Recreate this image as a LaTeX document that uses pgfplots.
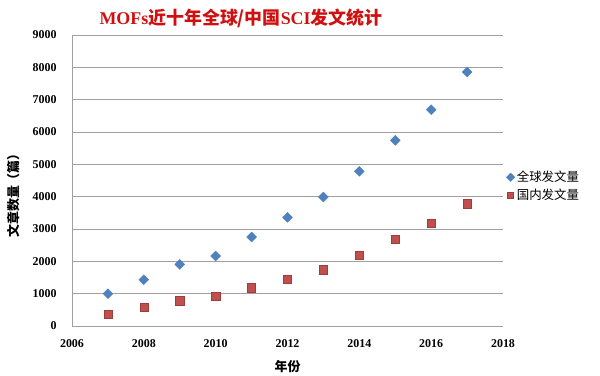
\documentclass[border=0pt]{standalone}
\usepackage{pgfplots}
\pgfplotsset{compat=1.18}
\usepackage{fontspec}
\setmainfont{Liberation Serif}
\newfontfamily\cjk{Noto Sans CJK SC}
\definecolor{gblue}{HTML}{4F81BD}
\definecolor{gred}{HTML}{C0504D}
\definecolor{gredd}{HTML}{A03C3A}
\definecolor{gridc}{HTML}{A0A0A0}
\definecolor{titlered}{HTML}{D01010}
\begin{document}
\begin{tikzpicture}
\begin{axis}[
  scale only axis,
  width=431bp, height=291bp,
  xmin=2006, xmax=2018, ymin=0, ymax=9000,
  xtick={2006,2008,...,2018},
  ytick={0,1000,...,9000},
  /pgf/number format/1000 sep={},
  /pgf/number format/assume math mode=true,
  ticklabel style={font=\fontsize{12}{14}\selectfont\bfseries},
  major tick length=0pt,
  axis x line*=bottom, axis y line*=left,
  axis line style={gridc, line width=0.8pt},
  x axis line style={-}, y axis line style={-},
  ymajorgrids, major grid style={gridc, line width=0.8pt},
  xticklabel style={yshift=-10bp},
  yticklabel style={xshift=-12bp},
  xlabel={\cjk\bfseries 年份},
  ylabel={\cjk\bfseries 文章数量（篇）},
  label style={font=\fontsize{13}{15}\selectfont},
  xlabel style={yshift=-6bp},
  ylabel style={yshift=6bp, xshift=-12bp},
  legend style={at={(1.005,0.48)}, anchor=west, draw=none, fill=none,
    font=\cjk\fontsize{12.5}{14}\selectfont, row sep=2bp,
    legend cell align=left, inner sep=1bp},
  legend image code/.code={\draw[#1, mark size=3bp] plot coordinates {(0.1cm,0cm)};},
  title={\textcolor{titlered}{\bfseries\fontsize{18}{21}\selectfont MOFs{\cjk 近十年全球/中国}SCI{\cjk 发文统计}}},
  title style={at={(0.392,1)}, yshift=-2bp},
  clip=false,
]
\addplot[only marks, mark=square*, mark size=3.5bp, color=gblue, mark options={fill=gblue, draw=gblue, rotate=45}]
coordinates {(2007,1000)(2008,1433)(2009,1907)(2010,2165)(2011,2753)(2012,3361)(2013,3990)(2014,4784)(2015,5742)(2016,6691)(2017,7856)};
\addlegendentry{全球发文量}
\addplot[only marks, mark=square*, mark size=4.1bp, color=gred, mark options={fill=gred, draw=gredd}]
coordinates {(2007,371)(2008,577)(2009,784)(2010,918)(2011,1186)(2012,1454)(2013,1742)(2014,2186)(2015,2691)(2016,3175)(2017,3784)};
\addlegendentry{国内发文量}
\end{axis}
\pgfresetboundingbox
\path (current axis.south west) ++(-72bp,-50bp) rectangle ++(600bp,376bp);
\end{tikzpicture}
\end{document}
